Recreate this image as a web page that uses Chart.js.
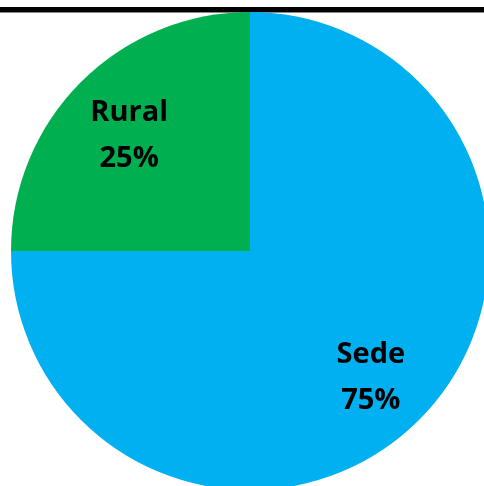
<!DOCTYPE html>
<html lang="es">
<head>
<meta charset="UTF-8">
<title>Sede / Rural</title>
<script src="https://cdn.jsdelivr.net/npm/chart.js"></script>
<style>
    html, body { margin: 0; padding: 0; background: #fff; overflow: hidden; width: 484px; height: 486px; }
    #topLine { position: absolute; left: 0; top: 7px; width: 484px; height: 5px; background: #000; border-bottom: 1px solid #888; }
    #wrap { position: absolute; left: 11px; top: 12px; width: 478px; height: 478px; }
</style>
</head>
<body>
<div id="topLine"></div>
<div id="wrap"><canvas id="pie"></canvas></div>
<script>
const categories = ['Sede', 'Rural'];
const values = [75, 25];
const sliceColors = ['#00B0F0', '#00B050'];

// draws "name / pct%" inside each slice
const sliceLabels = {
    id: 'sliceLabels',
    afterDatasetsDraw(chart) {
        const ctx = chart.ctx;
        const meta = chart.getDatasetMeta(0);
        const total = values.reduce((a, b) => a + b, 0);
        ctx.save();
        ctx.fillStyle = '#000';
        ctx.font = 'bold 29px "Open Sans", sans-serif';
        ctx.textAlign = 'center';
        ctx.textBaseline = 'middle';
        meta.data.forEach((arc, i) => {
            const mid = (arc.startAngle + arc.endAngle) / 2;
            const r = arc.outerRadius * 0.715;
            const x = arc.x + Math.cos(mid) * r;
            const y = arc.y + Math.sin(mid) * r + 6;
            const pct = Math.round(values[i] / total * 100) + '%';
            ctx.fillText(categories[i], x, y - 23);
            ctx.fillText(pct, x, y + 23);
        });
        ctx.restore();
    }
};

new Chart(document.getElementById('pie'), {
    type: 'pie',
    data: {
        labels: categories,
        datasets: [{
            data: values,
            backgroundColor: sliceColors,
            borderWidth: 0
        }]
    },
    options: {
        responsive: true,
        maintainAspectRatio: true,
        aspectRatio: 1,
        animation: false,
        layout: { padding: 0 },
        plugins: {
            legend: { display: false },
            tooltip: { enabled: false }
        }
    },
    plugins: [sliceLabels]
});
</script>
</body>
</html>
